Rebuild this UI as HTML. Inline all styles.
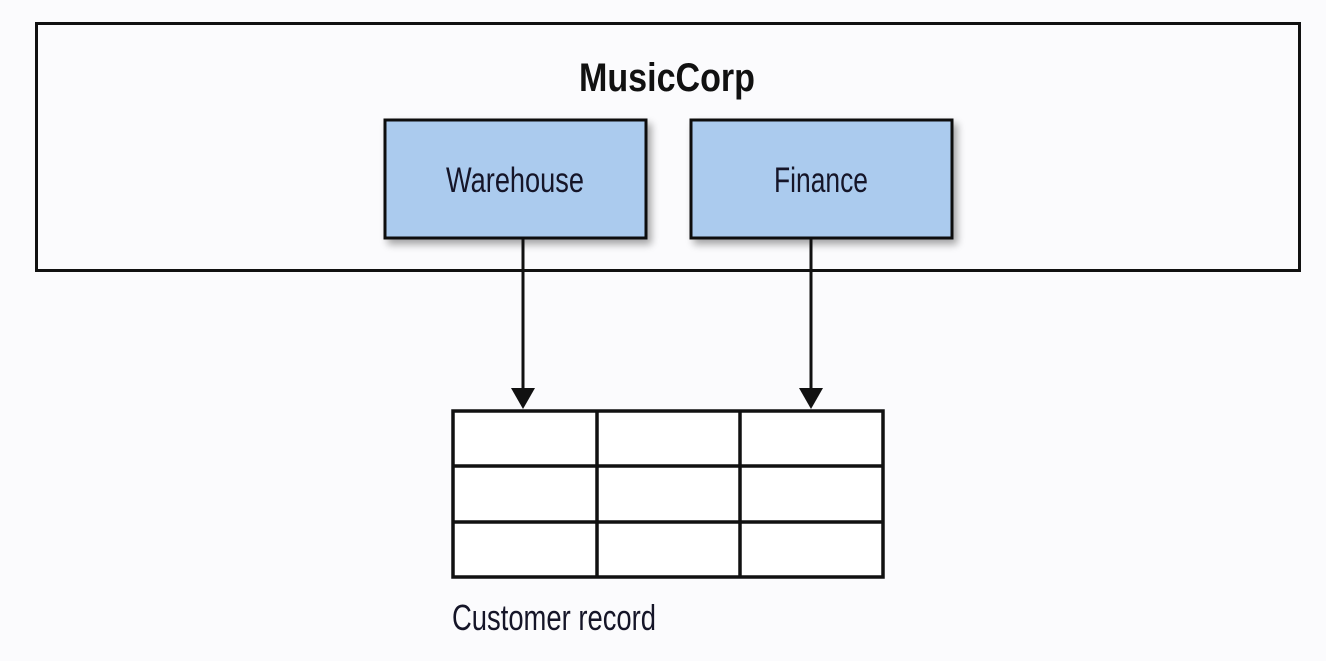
<!DOCTYPE html>
<html><head><style>html,body{margin:0;padding:0;background:#fbfbfd;}</style></head>
<body>
<svg width="1326" height="656" viewBox="0 0 1326 656" xmlns="http://www.w3.org/2000/svg">
<defs>
<filter id="sh" x="-10%" y="-10%" width="130%" height="140%"><feGaussianBlur in="SourceAlpha" stdDeviation="4"/><feOffset dx="4" dy="5"/><feComponentTransfer><feFuncA type="linear" slope="0.35"/></feComponentTransfer><feMerge><feMergeNode/><feMergeNode in="SourceGraphic"/></feMerge></filter>
</defs>
<rect x="0" y="0" width="1326" height="656" fill="#fbfbfd"/>
<rect x="36.5" y="23.5" width="1263" height="247" fill="none" stroke="#111" stroke-width="3"/>
<text x="667" y="91" text-anchor="middle" font-family="Liberation Sans Narrow, Liberation Sans, sans-serif" font-weight="bold" font-size="40" textLength="176" lengthAdjust="spacingAndGlyphs" fill="#111">MusicCorp</text>
<rect x="385" y="120" width="261" height="118" fill="#abcbee" stroke="#111" stroke-width="3" filter="url(#sh)"/>
<rect x="691" y="120" width="261" height="118" fill="#abcbee" stroke="#111" stroke-width="3" filter="url(#sh)"/>
<text x="515" y="192" text-anchor="middle" font-family="Liberation Sans Narrow, Liberation Sans, sans-serif" font-size="35" textLength="138" lengthAdjust="spacingAndGlyphs" fill="#151528">Warehouse</text>
<text x="821" y="192" text-anchor="middle" font-family="Liberation Sans Narrow, Liberation Sans, sans-serif" font-size="35" textLength="94" lengthAdjust="spacingAndGlyphs" fill="#151528">Finance</text>
<line x1="523" y1="239" x2="523" y2="392" stroke="#111" stroke-width="3"/>
<polygon points="511,388 535,388 523,409" fill="#111"/>
<line x1="811" y1="239" x2="811" y2="392" stroke="#111" stroke-width="3"/>
<polygon points="799,388 823,388 811,409" fill="#111"/>
<g stroke="#111" stroke-width="3.5" fill="#fff">
<rect x="453" y="411" width="430" height="166"/>
<line x1="597" y1="411" x2="597" y2="577"/>
<line x1="740" y1="411" x2="740" y2="577"/>
<line x1="453" y1="466" x2="883" y2="466"/>
<line x1="453" y1="522" x2="883" y2="522"/>
</g>
<text x="452" y="630" font-family="Liberation Sans Narrow, Liberation Sans, sans-serif" font-size="36" textLength="204" lengthAdjust="spacingAndGlyphs" fill="#151528">Customer record</text>
</svg>
</body></html>
